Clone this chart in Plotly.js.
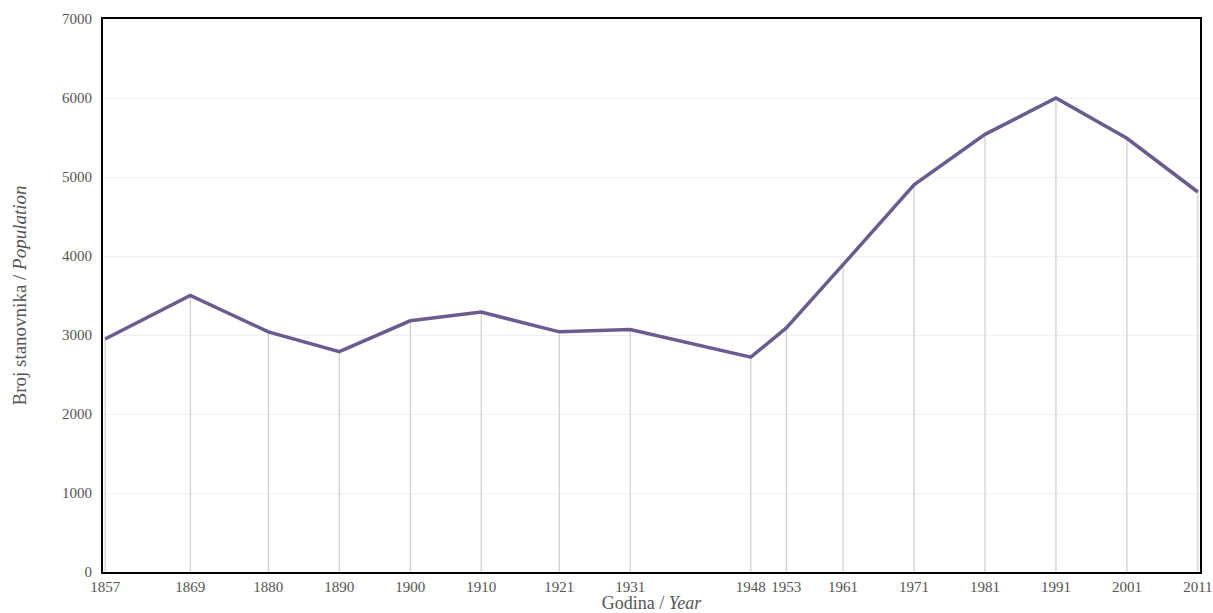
<!DOCTYPE html>
<html>
<head>
<meta charset="utf-8">
<script src="https://cdn.plot.ly/plotly-3.0.1.min.js"></script>
<style>
  html, body { margin: 0; padding: 0; background: #fff; }
  #plot { width: 1213px; height: 613px; }
</style>
</head>
<body>
<div id="plot"></div>
<script>
// godine popisa / census years
const years = [1857, 1869, 1880, 1890, 1900, 1910, 1921, 1931, 1948, 1953, 1961, 1971, 1981, 1991, 2001, 2011];
// broj stanovnika / population
const population = [2950, 3500, 3040, 2790, 3180, 3290, 3040, 3070, 2720, 3090, 3890, 4900, 5540, 6000, 5490, 4810];
const yTicks = [0, 1000, 2000, 3000, 4000, 5000, 6000, 7000];

const plot_elem = document.getElementById("plot");

const trace = {
    x: years,
    y: population,
    mode: "lines",
    line: { color: "#6c5b8f", width: 3.5 },
    // okomite linije do osi (drop lines)
    error_y: {
        type: "data",
        symmetric: false,
        array: years.map(() => 0),
        arrayminus: population,
        color: "#c4c4c4",
        thickness: 1,
        width: 0
    },
    hoverinfo: "x+y"
};

const layout = {
    width: 1213,
    height: 613,
    margin: { l: 103, r: 13, t: 19, b: 41 },
    paper_bgcolor: "#fff",
    plot_bgcolor: "#fff",
    showlegend: false,
    font: { family: "Liberation Serif", size: 15, color: "#555" },
    xaxis: {
        range: [1856.7, 2011.3],
        tickvals: years,
        ticktext: years.map(String),
        tickangle: 0,
        showgrid: false,
        zeroline: false,
        showline: true,
        mirror: true,
        linecolor: "#000",
        linewidth: 2,
        ticks: "",
        title: { text: "Godina / <i>Year</i>", font: { family: "Liberation Serif", size: 18, color: "#555" }, standoff: 1 }
    },
    yaxis: {
        range: [0, 7000],
        tickvals: yTicks,
        showgrid: true,
        gridcolor: "#f0f0f0",
        gridwidth: 1,
        zeroline: false,
        showline: true,
        mirror: true,
        linecolor: "#000",
        linewidth: 2,
        ticks: "",
        ticklabelstandoff: 6,
        title: { text: "Broj stanovnika / <i>Population</i>", font: { family: "Liberation Serif", size: 19, color: "#555" }, standoff: 30 }
    }
};

Plotly.newPlot(plot_elem, [trace], layout, { displayModeBar: false, staticPlot: true });
</script>
</body>
</html>
